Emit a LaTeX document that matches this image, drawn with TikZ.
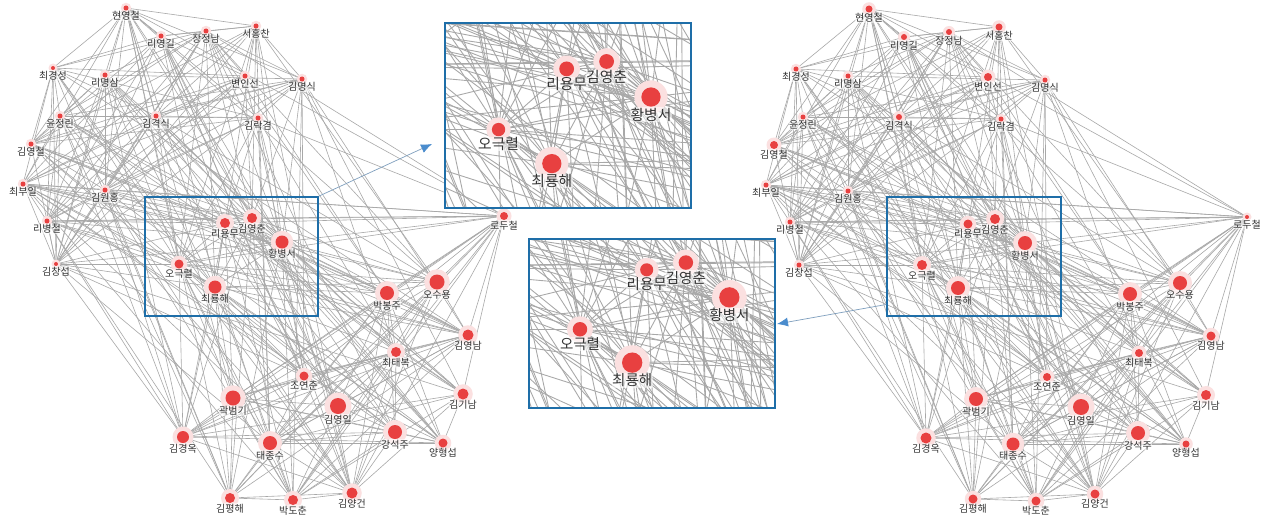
\documentclass[tikz,border=0pt]{standalone}
\usepackage{fontspec}
\newfontfamily\kr{Noto Sans CJK KR}
\usetikzlibrary{arrows.meta,positioning}
\definecolor{dotred}{RGB}{232,64,64}
\definecolor{halopink}{RGB}{251,224,224}
\definecolor{linkgray}{RGB}{168,168,168}
\definecolor{boxblue}{RGB}{30,110,168}
\definecolor{arrowblue}{RGB}{74,140,205}
\tikzset{
	every node/.style={
		font=\kr\fontsize{10}{10}\selectfont
	},
	person/.style={
		shape=circle,
		fill=dotred,
		inner sep=0pt,
		label distance=1pt,
	},
	plabel/.style={
		text=black!80,
		fill=white,
		fill opacity=0.55,
		text opacity=1,
		inner sep=0.4pt
	},
	link/.style={draw=linkgray},
	zoombox/.style={draw=boxblue, line width=1.6pt, inner sep=0pt},
	zoomarrow/.style={draw=arrowblue!60!gray!80, line width=0.7pt,
		-{Latex[length=11pt,width=9pt,color=arrowblue]}},
}
% index/x/y/name/size left/size right
\newcommand\people{1/126/8/현영철/2.5/3.5, 2/161/36/리영길/2.5/3, 3/206/31/장정남/2.5/3,
	4/256/26/서홍찬/2.5/3.5, 5/53/68/최경성/2/2.5, 6/105/75/리명삼/2.5/2.5,
	7/245/76/변인선/2.5/4, 8/302/79/김명식/2.5/2.5, 9/60/116/윤정린/2.5/2.5,
	10/156/116/김격식/2.5/3, 11/258/118/김락겸/2.5/2.5, 12/31/144/김영철/2.5/4,
	13/23/184/최부일/2.5/2.5, 14/105/190/김원홍/2.5/2.5, 15/47/221/리병철/2.5/2.5,
	16/56/264/김창섭/2/2.5, 17/225/223/리용무/5/4.5, 18/252/218/김영춘/5/5,
	19/282/242/황병서/6.5/7, 20/179/264/오극렬/4.5/5, 21/215/287/최룡해/6.5/7,
	22/504/216/로두철/4/2, 23/387/293/박봉주/7/7, 24/437/282/오수용/7.5/7,
	25/468/335/김영남/5.5/4.5, 26/396/352/최태복/5/4, 27/304/376/조연준/4.5/4,
	28/233/398/곽범기/7.5/7, 29/338/406/김영일/8/8, 30/463/394/김기남/5.5/5,
	31/183/437/김경옥/6/5.5, 32/270/443/태종수/7/6.5, 33/395/432/강석주/7/7,
	34/443/443/양형섭/4.5/3.5, 35/230/498/김평해/5/4.5, 36/293/500/박도춘/5/4.5,
	37/352/493/김양건/5.5/4.5}

\begin{document}
\begin{tikzpicture}[x=1pt,y=-1pt]
\useasboundingbox (0,0) rectangle (1266,519);
\fill[white] (0,0) rectangle (1266,519);

% both networks, then the two enlarged copies (only the boxed people get dots there)
\foreach \cp/\dx/\dy/\zs/\cx/\cy/\cw/\ch/\sz/\na/\nb in {L/0/0/1/0/0/740/519/1/1/37,
	R/743/1/1/740/0/526/519/2/1/37, A/233.6/-261.2/1.48/445/23/246/185/1/17/21,
	B/320.4/-53.6/1.45/529/239/246/169/2/17/21}{
	\begin{scope}
		\clip (\cx,\cy) rectangle ++(\cw,\ch);
		\fill[white] (\cx,\cy) rectangle ++(\cw,\ch);
		\begin{scope}[shift={(\dx,\dy)}, scale=\zs, transform shape]
			\foreach \i/\x/\y/\nm/\ra/\rb in \people
				\coordinate (\cp c\i) at (\x,\y);
			\foreach \i in {1,...,36}{
				\pgfmathtruncatemacro\gi{(\i>16)+(\i>21)}
				\pgfmathtruncatemacro\js{\i+1}
				\foreach \j in {\js,...,37}{
					\pgfmathtruncatemacro\gj{(\j>16)+(\j>21)}
					\pgfmathtruncatemacro\hv{mod(13*mod(\i*\i,100)+7*mod(\j*\j,100)+29*mod(\i*\j,100)+5*\i+3*\j,100)}
					\pgfmathtruncatemacro\thr{(\gi==1||\gj==1) ? 72 : ((\gi==\gj) ? 66 : 27)}
					\ifnum\hv<\thr \draw[link, line width=0.6*\zs pt] (\cp c\i) -- (\cp c\j); \fi
				}
			}
			\foreach \i/\x/\y/\nm/\ra/\rb in \people{
				\ifnum\i<\na\else\ifnum\i>\nb\else
				\pgfmathsetmacro\rad{\sz==1 ? \ra : \rb}
				\fill[halopink] (\cp c\i) circle ({\rad*1.5+1.5});
				\node[person, minimum size={2*\rad pt}, label={[plabel]below:\nm}] (\cp\i) at (\cp c\i) {};
				\fi\fi
			}
		\end{scope}
	\end{scope}
}

\node[zoombox, minimum width=173pt, minimum height=119pt] (boxL) at (231.5,256.5) {};
\node[zoombox, minimum width=174pt, minimum height=119pt] (boxR) at (974,256.5) {};
\node[zoombox, minimum width=246pt, minimum height=185pt] (zoomA) at (568,115.5) {};
\node[zoombox, minimum width=246pt, minimum height=169pt] (zoomB) at (652,323.5) {};
\coordinate (tipA) at (432,144);
\coordinate (tipB) at (777,324);
\draw[zoomarrow] (boxL.north east) -- (tipA);
\draw[zoomarrow] ([yshift=-48pt]boxR.west) -- (tipB);

\end{tikzpicture}
\end{document}
